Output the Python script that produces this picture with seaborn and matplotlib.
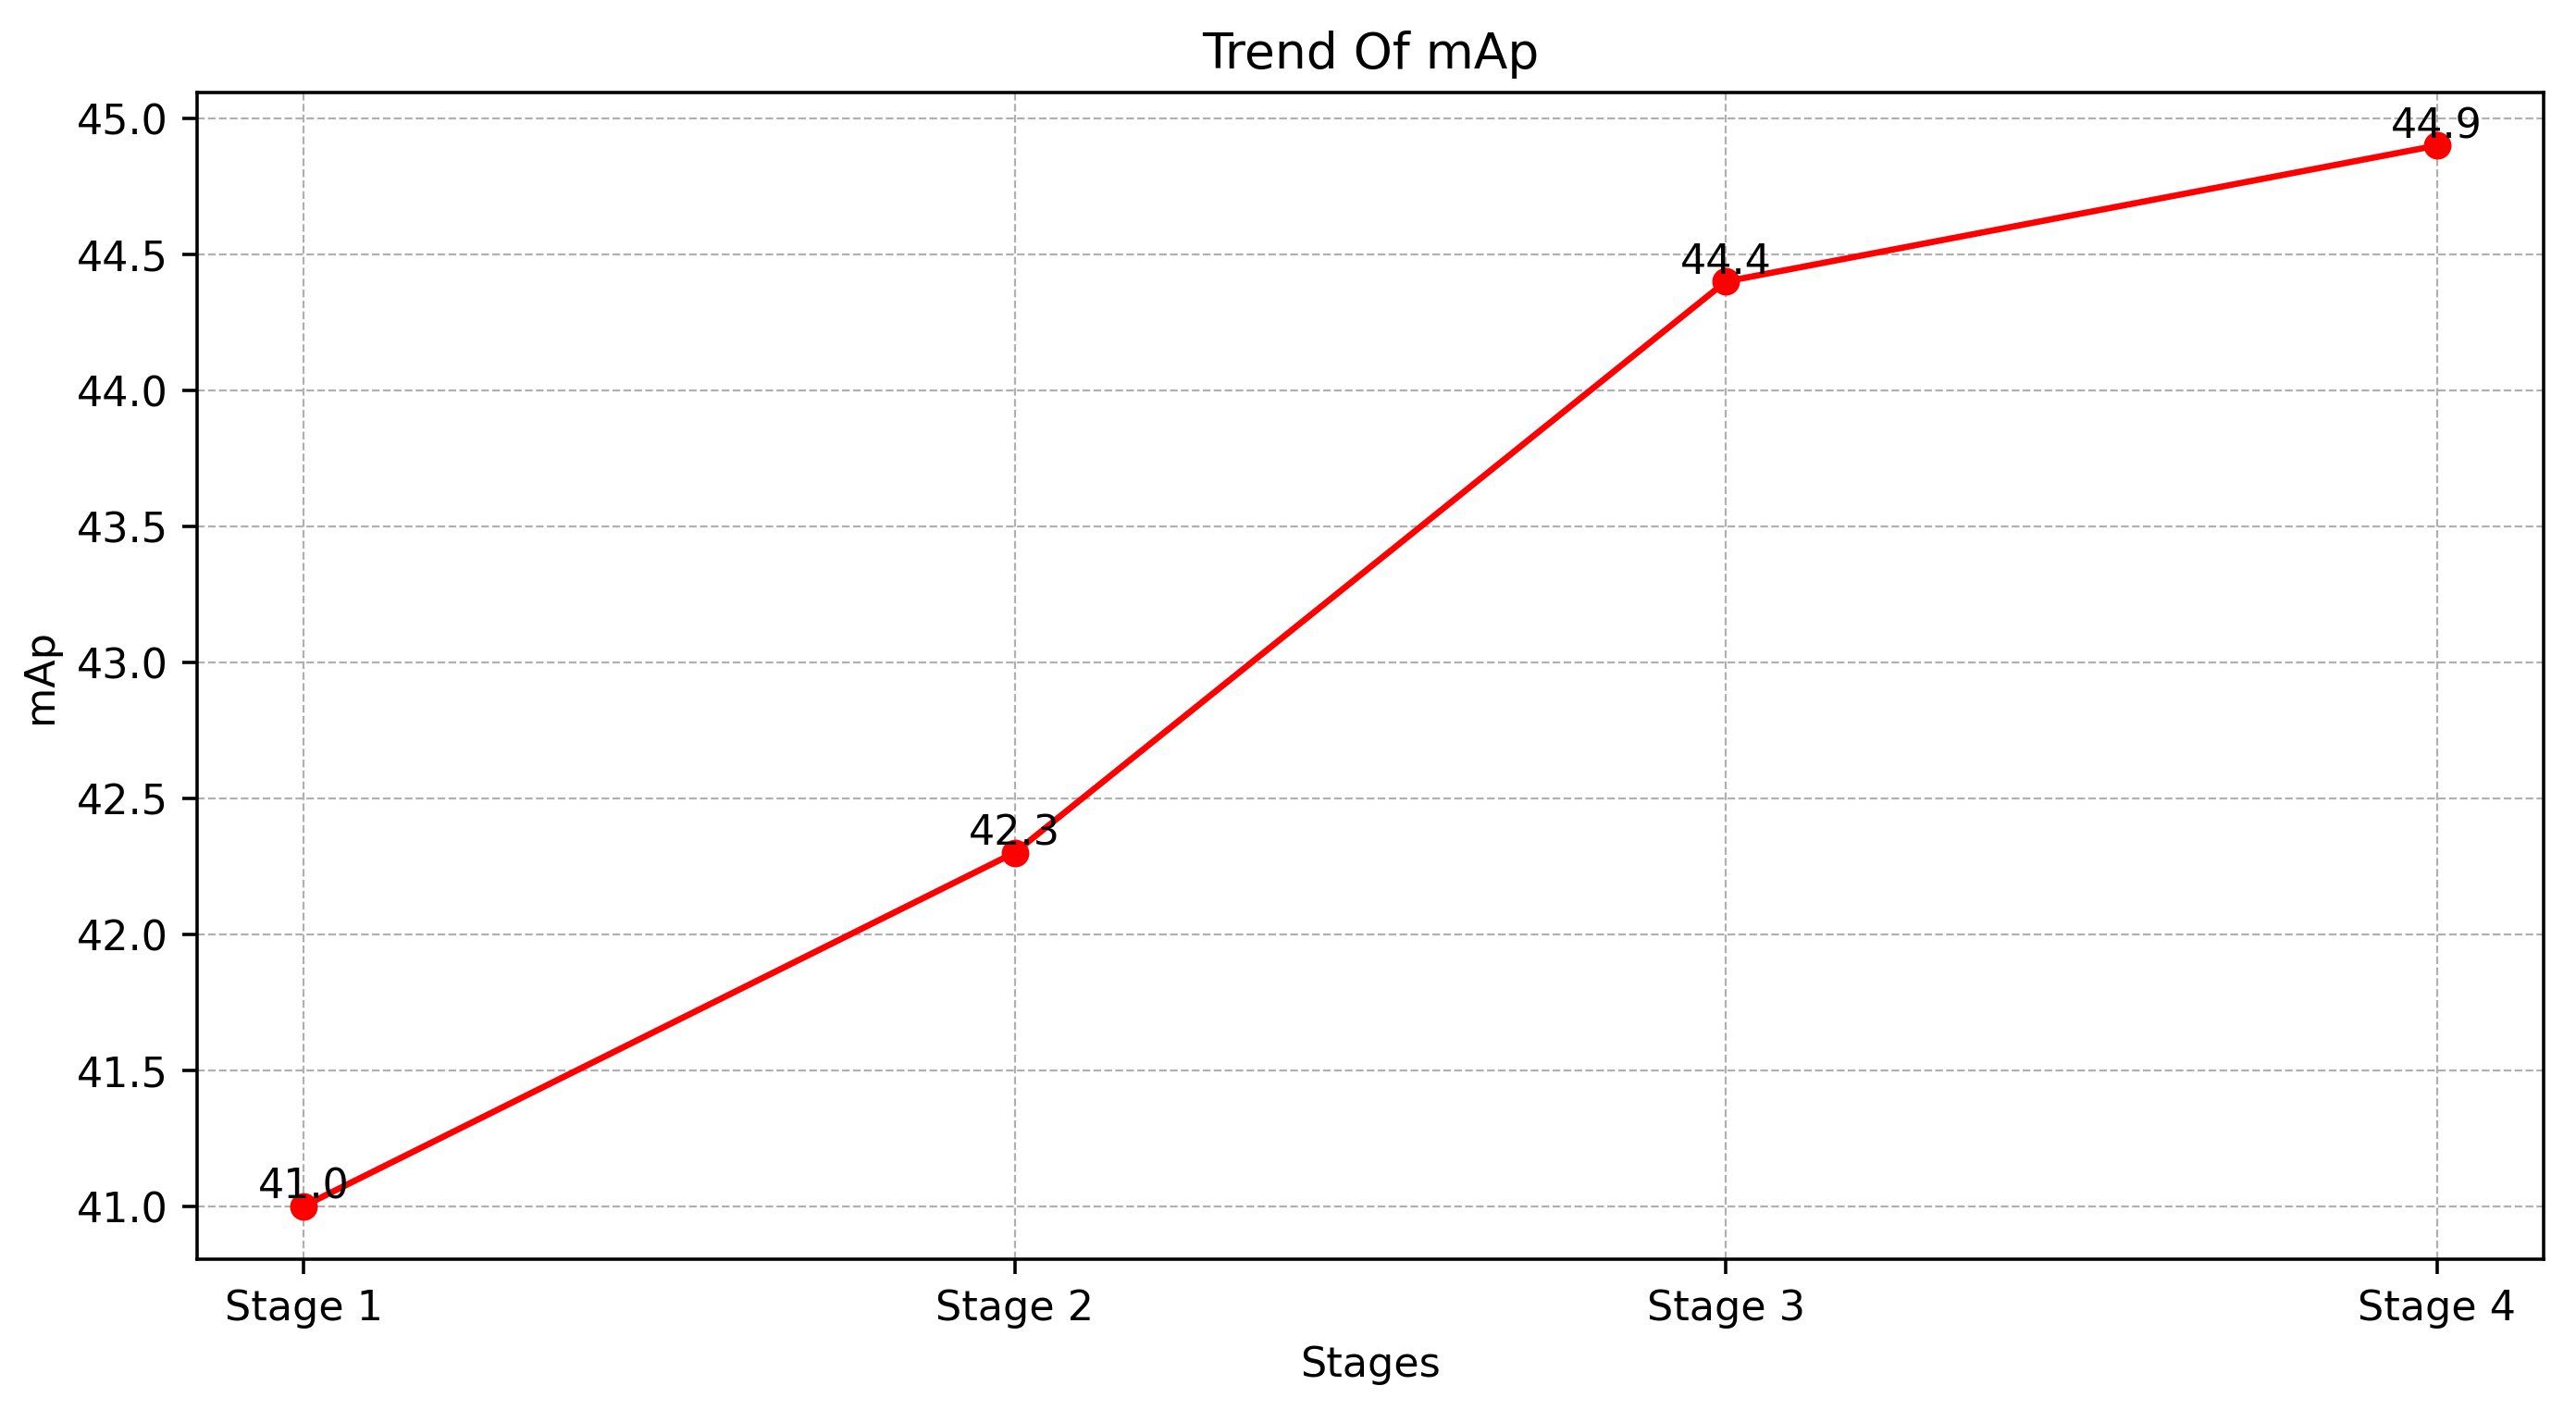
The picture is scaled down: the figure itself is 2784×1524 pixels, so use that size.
import matplotlib
matplotlib.use("Agg")
import matplotlib.pyplot as plt
import seaborn as sns
import pandas as pd

stages = ["Stage 1", "Stage 2", "Stage 3", "Stage 4"]
map_values = [41.0, 42.3, 44.4, 44.9]

df = pd.DataFrame({"Stages": stages, "mAp": map_values})

k = 1.07
plt.rcParams['font.family'] = ['DejaVu Sans']
fig = plt.figure(figsize=(9.28, 5.0833), dpi=300)
ax = fig.add_axes([0.0765, 0.1069, 0.9109, 0.8269])

sns.lineplot(data=df, x="Stages", y="mAp", marker="o", color="red",
             markeredgecolor="red", markersize=6 * k, linewidth=1.5 * k, ax=ax, sort=False)

for i, (s, v) in enumerate(zip(stages, map_values)):
    ax.text(i, v, f"{v:.1f}", ha="center", va="bottom", fontsize=10 * k)

ax.set_title("Trend Of mAp", fontsize=12 * k, pad=6 * k)
ax.set_xlabel("Stages", fontsize=10 * k, labelpad=4 * k)
ax.set_ylabel("mAp", fontsize=10 * k, labelpad=4 * k)
ax.tick_params(labelsize=10 * k, length=3.5 * k, pad=3.5 * k, width=0.8 * k)
for sp in ax.spines.values():
    sp.set_linewidth(0.8 * k)
ax.margins(x=0.05, y=0.05)
ax.grid(True, linestyle="--", linewidth=0.5 * k, color="#b0b0b0")
ax.set_axisbelow(True)

fig.savefig("out.png", dpi=300)
